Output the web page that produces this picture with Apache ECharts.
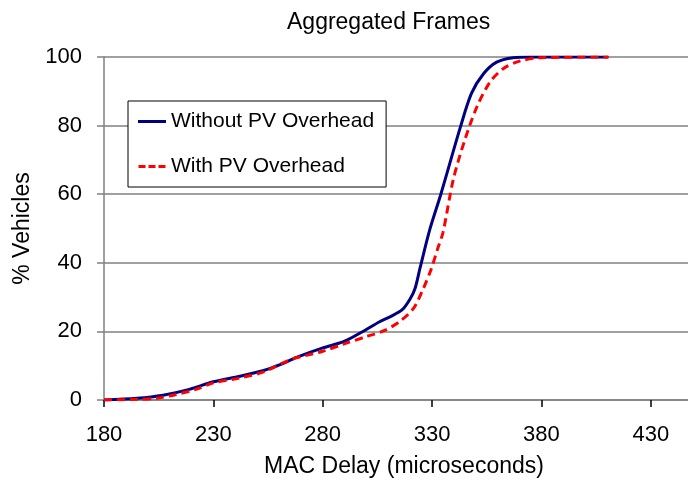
<!DOCTYPE html>
<html>
<head>
<meta charset="utf-8">
<script src="https://cdn.jsdelivr.net/npm/echarts@6/dist/echarts.min.js"></script>
<style>
  html, body { margin: 0; padding: 0; background: #fff; }
  #chart { width: 688px; height: 483px; }
</style>
</head>
<body>
<div id="chart"></div>
<script>
// series values (MAC delay in microseconds, % vehicles)
const seriesNames = ['Without PV Overhead', 'With PV Overhead'];

const withoutX = [180, 195, 207, 219, 230, 242, 253, 260.5, 268, 280, 289.5, 299, 306, 311, 316.5, 320, 322.2, 324.5, 329, 334, 343, 348, 353.5, 359.5, 367, 375, 410.6];
const withoutY = [0, 0.5, 1.4, 3.1, 5.3, 6.9, 8.6, 10.3, 12.4, 15.2, 17, 20.2, 22.8, 24.3, 26.4, 29.5, 32.5, 38.5, 49.8, 60, 79.7, 89.4, 95.1, 98.5, 99.8, 100, 100];

const withX = [180, 195, 204, 213, 222, 230, 242, 253, 265, 280, 289.5, 300, 308, 315, 321.5, 326, 329.5, 332.5, 335, 339.7, 345, 350.5, 356.5, 362.5, 370, 379.5, 410.6];
const withY = [0, 0.2, 0.5, 1.6, 3.1, 5, 6.4, 8.2, 11.7, 14.2, 16.3, 18.5, 20.2, 22.8, 26.7, 32.5, 38, 44, 48.9, 64.3, 75.9, 85.5, 92.7, 96.6, 98.8, 99.8, 100];

const xTicks = [180, 230, 280, 330, 380, 430];

const pairs = (xs, ys) => xs.map((x, i) => [x, ys[i]]);

const chart = echarts.init(document.getElementById('chart'));
const font = 'Liberation Sans, Arial, sans-serif';
const gray = '#808080';

// legend swatches: solid bar and dashed bar
const solidIcon = 'path://M0,0H28V3H0Z';
const dashIcon = 'path://M0,0H7V3H0Z M10,0H17V3H10Z M20,0H27V3H20Z';

chart.setOption({
  animation: false,
  backgroundColor: '#fff',
  textStyle: { fontFamily: font, color: '#000' },
  title: {
    text: 'Aggregated Frames',
    left: 282,
    top: 6,
    textStyle: { fontFamily: font, fontSize: 23, fontWeight: 'normal', color: '#000' }
  },
  legend: {
    orient: 'vertical',
    left: 128,
    top: 101,
    padding: [10, 12, 10, 10],
    itemGap: 24,
    itemWidth: 28,
    itemHeight: 3,
    backgroundColor: '#fff',
    borderColor: '#000',
    borderWidth: 1,
    borderRadius: 0,
    textStyle: { fontFamily: font, fontSize: 21, color: '#000' },
    data: [
      { name: seriesNames[0], icon: solidIcon, itemStyle: { color: '#000080' } },
      { name: seriesNames[1], icon: dashIcon, itemStyle: { color: '#ff0000' } }
    ]
  },
  grid: { left: 104, right: 0, top: 57, bottom: 82 },
  xAxis: {
    type: 'value',
    min: 180,
    max: 447,
    interval: 50,
    name: 'MAC Delay (microseconds)',
    nameLocation: 'middle',
    nameGap: 55,
    nameTextStyle: { fontFamily: font, fontSize: 23, color: '#000', padding: [0, 0, 0, 16] },
    axisLine: { lineStyle: { color: gray, width: 1.5 } },
    axisTick: { show: true, inside: false, length: 7, lineStyle: { color: '#000', width: 1.5 } },
    axisLabel: {
      margin: 24,
      fontSize: 22,
      color: '#000',
      showMaxLabel: false,
      formatter: v => (xTicks.indexOf(v) >= 0 ? String(v) : '')
    },
    splitLine: { show: false }
  },
  yAxis: {
    type: 'value',
    min: 0,
    max: 100,
    interval: 20,
    name: '% Vehicles',
    nameLocation: 'middle',
    nameGap: 70,
    nameRotate: 90,
    nameTextStyle: { fontFamily: font, fontSize: 23, color: '#000' },
    axisLine: { show: true, lineStyle: { color: gray, width: 1.5 } },
    axisTick: { show: true, inside: false, length: 7, lineStyle: { color: gray, width: 1.5 } },
    axisLabel: { margin: 22, fontSize: 22, color: '#000' },
    splitLine: { show: true, lineStyle: { color: gray, width: 1.5 } }
  },
  series: [
    {
      name: seriesNames[0],
      type: 'line',
      data: pairs(withoutX, withoutY),
      smooth: 0.3,
      symbol: 'none',
      lineStyle: { color: '#000080', width: 3 },
      itemStyle: { color: '#000080' },
      z: 3
    },
    {
      name: seriesNames[1],
      type: 'line',
      data: pairs(withX, withY),
      smooth: 0.3,
      symbol: 'none',
      lineStyle: { color: '#ff0000', width: 3, type: [8, 5] },
      itemStyle: { color: '#ff0000' },
      z: 4
    }
  ]
});
</script>
</body>
</html>
